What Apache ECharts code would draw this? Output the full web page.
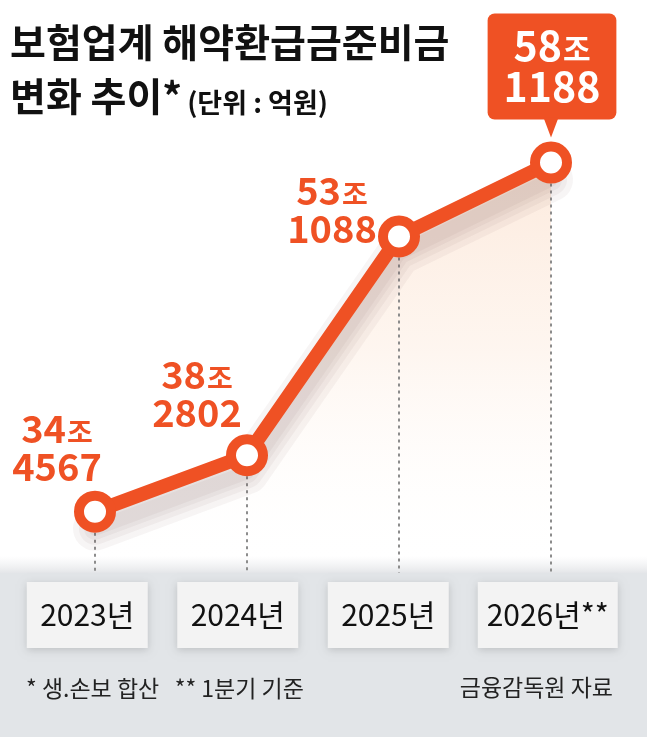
<!DOCTYPE html>
<html>
<head>
<meta charset="utf-8">
<script src="https://cdn.jsdelivr.net/npm/echarts@6/dist/echarts.min.js"></script>
<style>
html,body{margin:0;padding:0;background:#fff;}
#c{width:647px;height:737px;}
</style>
</head>
<body>
<div id="c"></div>
<script>
// ---- data ----
const years = ['2023', '2024', '2025', '2026'];
const yearLabels = ['2023년', '2024년', '2025년', '2026년**'];
const values = [344567, 382802, 531088, 581188]; // 억원
const titleLine1 = '보험업계 해약환급금준비금';
const titleLine2 = '변화 추이*';
const unitText = '(단위 : 억원)';
const noteLeft = '* 생.손보 합산   ** 1분기 기준';
const noteRight = '금융감독원 자료';

// ---- style ----
const FONT = "'Noto Sans CJK KR', 'Noto Sans', sans-serif";
const ORANGE = '#ef5124';
const Y_MIN = 303000, Y_MAX = 623600;
const SHADOW_SHIFT = 11500; // axis shift that drops the soft shadow a little below the line
const labelOffsets = [[-38, -64], [-50, -62], [-67, -27], [1, -96]];

const chart = echarts.init(document.getElementById('c'), null, {renderer: 'canvas'});

function splitJo(v) {
  return {jo: Math.floor(v / 10000), rest: v % 10000};
}

const lineData = values.map((v, i) => {
  const last = i === values.length - 1;
  const item = {
    value: v,
    label: {
      show: true,
      position: 'inside',
      offset: labelOffsets[i],
      formatter: (p) => {
        const s = splitJo(p.value);
        return last ? `{wn|${s.jo}}{wj|조}\n{wn|${s.rest}}` : `{n|${s.jo}}{j|조}\n{n|${s.rest}}`;
      },
      align: 'center',
      rich: {
        n: {fontSize: 38, fontWeight: 'bold', color: ORANGE, fontFamily: FONT, lineHeight: 38, verticalAlign: 'bottom'},
        j: {fontSize: 28, fontWeight: 'bold', color: ORANGE, fontFamily: FONT, lineHeight: 30, verticalAlign: 'bottom', padding: [0, 0, 1, 1]},
        wn: {fontSize: 41, fontWeight: 'bold', color: '#fff', fontFamily: FONT, lineHeight: 41, verticalAlign: 'bottom'},
        wj: {fontSize: 30, fontWeight: 'bold', color: '#fff', fontFamily: FONT, lineHeight: 32, verticalAlign: 'bottom', padding: [0, 0, 2, 1]}
      }
    }
  };
  if (last) {
    item.label.backgroundColor = ORANGE;
    item.label.borderRadius = 7;
    item.label.padding = [11, 16, 13, 16];
  }
  return item;
});

const xLabelRich = {
  t: {width: 18, height: 66},
  w: {width: 121, height: 66, lineHeight: 66, align: 'center', backgroundColor: '#f3f3f3',
      fontSize: 30, color: '#111', fontFamily: FONT,
      shadowColor: 'rgba(0,0,0,0.16)', shadowBlur: 8, shadowOffsetY: 2},
  w2: {width: 140, height: 66, lineHeight: 66, align: 'center', backgroundColor: '#f3f3f3',
      fontSize: 30, color: '#111', fontFamily: FONT,
      shadowColor: 'rgba(0,0,0,0.16)', shadowBlur: 8, shadowOffsetY: 2}
};

// layered soft shadow lines (wide + faint)
const shadowLayers = [44, 32, 22, 14].map((w) => ({
  type: 'line', xAxisIndex: 0, yAxisIndex: 2, z: 2, data: values, silent: true,
  symbol: 'none', label: {show: false},
  lineStyle: {color: 'rgba(110,80,65,0.055)', width: w, cap: 'round', join: 'round'}
}));

const option = {
  animation: false,
  backgroundColor: '#ffffff',
  title: [
    {text: titleLine1, left: 5, top: 18,
     textStyle: {fontSize: 39, fontWeight: 'bold', color: '#111', fontFamily: FONT}},
    {text: `{a|${titleLine2}} {b|${unitText}}`, left: 5, top: 65,
     textStyle: {rich: {
       a: {fontSize: 39, fontWeight: 'bold', color: '#111', fontFamily: FONT, verticalAlign: 'bottom', lineHeight: 46},
       b: {fontSize: 27, color: '#111', fontFamily: FONT, verticalAlign: 'bottom', lineHeight: 40}
     }}}
  ],
  graphic: [
    {type: 'rect', z: -10, shape: {x: 0, y: 573, width: 647, height: 164}, style: {fill: '#e2e5e8'}},
    {type: 'rect', z: -10, shape: {x: 0, y: 556, width: 647, height: 17},
     style: {fill: new echarts.graphic.LinearGradient(0, 0, 0, 1, [
       {offset: 0, color: 'rgba(235,235,238,0)'}, {offset: 1, color: 'rgba(225,227,230,0.9)'}])}},
    {type: 'text', x: 26, y: 677, style: {text: noteLeft, fontSize: 23, fill: '#222', fontFamily: FONT}},
    {type: 'text', x: 613, y: 676, style: {text: noteRight, fontSize: 23, fill: '#222', fontFamily: FONT, align: 'right'}}
  ],
  grid: [
    {left: 19, right: 20, top: 100, bottom: 164},
    {left: 12, right: 33, top: 100, bottom: 164}
  ],
  xAxis: [
    {type: 'category', gridIndex: 0, data: years, boundaryGap: true,
     axisLine: {show: false}, axisTick: {show: false}, axisLabel: {show: false}, splitLine: {show: false}},
    {type: 'category', gridIndex: 1, data: yearLabels, boundaryGap: true,
     axisLine: {show: false}, axisTick: {show: false}, splitLine: {show: false},
     axisLabel: {show: true, margin: 9, interval: 0,
       formatter: (v) => v.indexOf('**') >= 0 ? `{t|}{w2|${v}}` : `{w|${v}}`,
       rich: xLabelRich}}
  ],
  yAxis: [
    {type: 'value', gridIndex: 0, min: Y_MIN, max: Y_MAX, show: false, splitLine: {show: false}},
    {type: 'value', gridIndex: 1, min: 0, max: 1, show: false, splitLine: {show: false}},
    {type: 'value', gridIndex: 0, min: Y_MIN + SHADOW_SHIFT, max: Y_MAX + SHADOW_SHIFT, show: false, splitLine: {show: false}}
  ],
  series: [
    {
      // soft peach fill under the line
      type: 'line', xAxisIndex: 0, yAxisIndex: 0, z: 0, data: values, silent: true,
      symbol: 'none', lineStyle: {width: 0, opacity: 0},
      areaStyle: {
        origin: 'start',
        color: new echarts.graphic.LinearGradient(0, 0, 0, 1, [
          {offset: 0, color: 'rgba(250,215,190,0.75)'},
          {offset: 0.45, color: 'rgba(252,228,210,0.5)'},
          {offset: 1, color: 'rgba(255,255,255,0)'}
        ])
      }
    },
    {
      type: 'line', xAxisIndex: 0, yAxisIndex: 0, z: 1, data: [], silent: true,
      markLine: {
        silent: true, z: 1, symbol: ['none', 'none'], label: {show: false},
        lineStyle: {color: '#8c8c8c', width: 2, type: [3, 4]},
        data: values.map((v, i) => [{coord: [i, v]}, {coord: [i, Y_MIN]}])
      }
    },
    ...shadowLayers,
    {
      type: 'line', xAxisIndex: 0, yAxisIndex: 0, z: 3,
      data: lineData,
      symbol: 'circle', symbolSize: 32,
      itemStyle: {color: '#ffffff', borderColor: ORANGE, borderWidth: 10},
      lineStyle: {color: ORANGE, width: 14},
      markPoint: {
        silent: true,
        label: {show: false},
        data: [{coord: [values.length - 1, values[values.length - 1]], symbol: 'triangle',
                symbolRotate: 180, symbolSize: [15, 20], symbolOffset: [0, -35],
                itemStyle: {color: ORANGE}}]
      }
    }
  ]
};

chart.setOption(option);
</script>
</body>
</html>
